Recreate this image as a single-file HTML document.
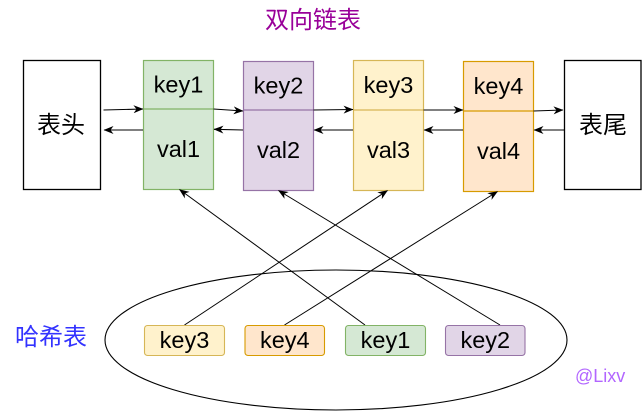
<!DOCTYPE html>
<html>
<head>
<meta charset="utf-8">
<style>
html,body{margin:0;padding:0;background:#fff;}
svg{display:block;}
text{font-family:"Liberation Sans","Noto Sans CJK SC",sans-serif;}
</style>
</head>
<body>
<svg width="642" height="411" viewBox="0 0 642 411" xmlns="http://www.w3.org/2000/svg">
<defs>
<marker id="a" viewBox="0 0 10 8" refX="9.5" refY="4" markerWidth="10" markerHeight="8" markerUnits="userSpaceOnUse" orient="auto">
<path d="M0,0 L10,4 L0,8 L3,4 Z" fill="#000"/>
</marker>
</defs>

<!-- title -->
<text x="313" y="28" font-size="24" fill="#990099" text-anchor="middle">双向链表</text>

<!-- head / tail -->
<rect x="23.5" y="60.5" width="77" height="129" fill="#fff" stroke="#000" stroke-width="1.3"/>
<text x="61" y="133" font-size="24" text-anchor="middle" fill="#000">表头</text>
<rect x="564.5" y="60.5" width="76.5" height="129" fill="#fff" stroke="#000" stroke-width="1.3"/>
<text x="603" y="133" font-size="24" text-anchor="middle" fill="#000">表尾</text>

<!-- nodes -->
<rect x="143.5" y="60.5" width="70" height="129" fill="#d5e8d4" stroke="#82b366" stroke-width="1.2"/>
<line x1="143.5" y1="109" x2="213.5" y2="109" stroke="#82b366" stroke-width="1.2"/>
<text x="178.5" y="92.5" font-size="23.5" text-anchor="middle">key1</text>
<text x="178.5" y="157" font-size="23.5" text-anchor="middle">val1</text>

<rect x="243.5" y="61.5" width="70" height="129" fill="#e1d5e7" stroke="#9673a6" stroke-width="1.2"/>
<line x1="243.5" y1="110" x2="313.5" y2="110" stroke="#9673a6" stroke-width="1.2"/>
<text x="278.5" y="93.5" font-size="23.5" text-anchor="middle">key2</text>
<text x="278.5" y="158" font-size="23.5" text-anchor="middle">val2</text>

<rect x="353.5" y="60.5" width="70" height="130" fill="#fff2cc" stroke="#d6b656" stroke-width="1.2"/>
<line x1="353.5" y1="110" x2="423.5" y2="110" stroke="#d6b656" stroke-width="1.2"/>
<text x="388.5" y="93" font-size="23.5" text-anchor="middle">key3</text>
<text x="388.5" y="158" font-size="23.5" text-anchor="middle">val3</text>

<rect x="463.5" y="61.5" width="70" height="130" fill="#ffe6cc" stroke="#d79b00" stroke-width="1.2"/>
<line x1="463.5" y1="111" x2="533.5" y2="111" stroke="#d79b00" stroke-width="1.2"/>
<text x="498.5" y="94" font-size="23.5" text-anchor="middle">key4</text>
<text x="498.5" y="159" font-size="23.5" text-anchor="middle">val4</text>

<!-- horizontal arrows -->
<g stroke="#000" stroke-width="1.1" fill="none">
<line x1="103.5" y1="110" x2="143" y2="109" marker-end="url(#a)"/>
<line x1="143" y1="130" x2="104" y2="130" marker-end="url(#a)"/>
<line x1="213.5" y1="109" x2="243" y2="111" marker-end="url(#a)"/>
<line x1="243" y1="130" x2="214" y2="129.3" marker-end="url(#a)"/>
<line x1="313.5" y1="110" x2="353" y2="109.5" marker-end="url(#a)"/>
<line x1="353" y1="130" x2="314" y2="130" marker-end="url(#a)"/>
<line x1="423.5" y1="110" x2="463" y2="110" marker-end="url(#a)"/>
<line x1="463" y1="130" x2="424" y2="130" marker-end="url(#a)"/>
<line x1="533.5" y1="111" x2="563" y2="110" marker-end="url(#a)"/>
<line x1="565" y1="130" x2="534" y2="130" marker-end="url(#a)"/>
</g>

<!-- hash ellipse -->
<ellipse cx="336" cy="340" rx="231" ry="70" fill="none" stroke="#000" stroke-width="1.1"/>

<!-- diagonal arrows -->
<g stroke="#000" stroke-width="1" fill="none">
<line x1="184.5" y1="325" x2="387.5" y2="190.5" marker-end="url(#a)"/>
<line x1="284.5" y1="325" x2="497.5" y2="191.5" marker-end="url(#a)"/>
<line x1="365" y1="325" x2="179.5" y2="189.5" marker-end="url(#a)"/>
<line x1="500" y1="325" x2="278.5" y2="190.5" marker-end="url(#a)"/>
</g>

<!-- hash keys -->
<rect x="144.5" y="325.5" width="80" height="30" rx="3" fill="#fff2cc" stroke="#d6b656" stroke-width="1.1"/>
<text x="184.5" y="348" font-size="23.5" text-anchor="middle">key3</text>
<rect x="245" y="325.5" width="79.5" height="30" rx="3" fill="#ffe6cc" stroke="#d79b00" stroke-width="1.1"/>
<text x="284.8" y="348" font-size="23.5" text-anchor="middle">key4</text>
<rect x="345.5" y="325.5" width="80" height="30" rx="3" fill="#d5e8d4" stroke="#82b366" stroke-width="1.1"/>
<text x="385.5" y="348" font-size="23.5" text-anchor="middle">key1</text>
<rect x="445.5" y="325.5" width="79.5" height="30" rx="3" fill="#e1d5e7" stroke="#9673a6" stroke-width="1.1"/>
<text x="485.3" y="348" font-size="23.5" text-anchor="middle">key2</text>

<!-- labels -->
<text x="15" y="345" font-size="24" fill="#3333ff">哈希表</text>
<text x="575" y="382" font-size="18" fill="#b266ff">@Lixv</text>
</svg>
</body>
</html>
